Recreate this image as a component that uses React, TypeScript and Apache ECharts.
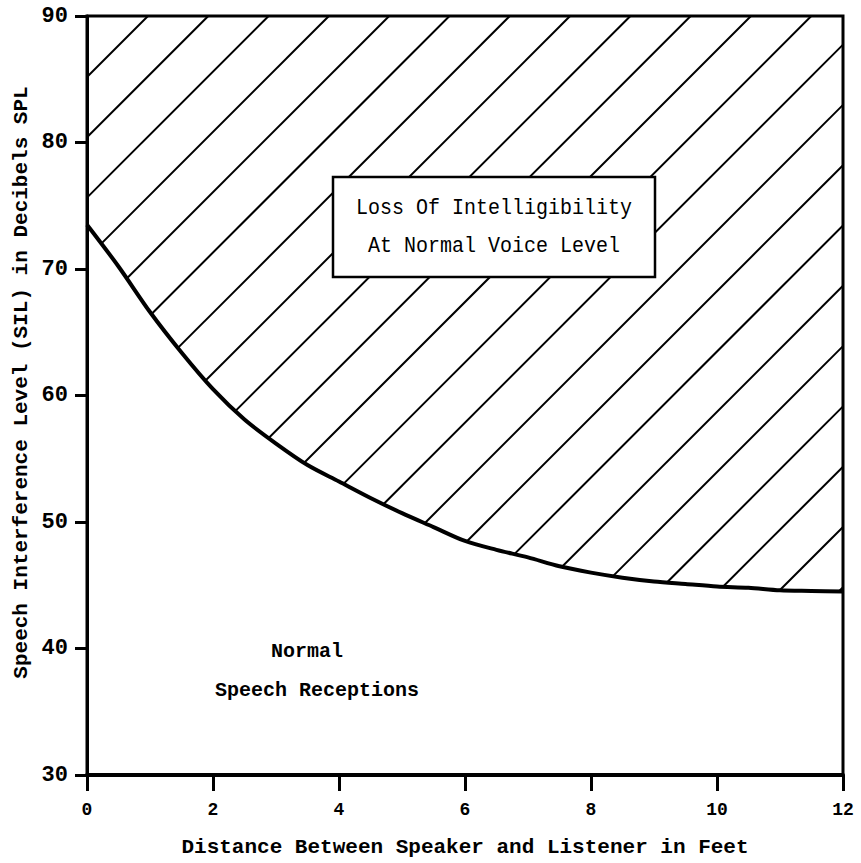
import React, { useEffect, useRef } from "react";
import * as echarts from "echarts";

// Distance between speaker and listener (feet)
const distanceFt = [0, 0.5, 1, 1.5, 2, 2.5, 3, 3.5, 4, 4.5, 5, 5.5, 6, 6.5, 7, 7.5, 8, 8.5, 9, 9.5, 10, 10.5, 11, 11.5, 12];
// Speech interference level (dB SPL) limit for normal voice
const silDb = [73.5, 70.2, 66.6, 63.4, 60.5, 58.1, 56.2, 54.5, 53.2, 51.9, 50.7, 49.6, 48.5, 47.8, 47.2, 46.5, 46.0, 45.6, 45.3, 45.1, 44.9, 44.8, 44.6, 44.55, 44.5];

const xAxisTitle = "Distance Between Speaker and Listener in Feet";
const yAxisTitle = "Speech Interference Level (SIL) in Decibels SPL";
const boxLines = ["Loss Of Intelligibility", "At Normal Voice Level"];
const normalLines = ["Normal", "Speech Receptions"];

const FONT = "'Liberation Mono', 'DejaVu Sans Mono', monospace";
const HATCH_SPACING = 60.3;
const HATCH_OFFSET = 61;

export default function App() {
  const ref = useRef<HTMLDivElement>(null);
  useEffect(() => {
    if (!ref.current) return;
    const chart = echarts.init(ref.current, undefined, { renderer: "svg" });
    const curve = distanceFt.map((d, i) => [d, silDb[i]]);

    const renderHatch = (params: any, api: any) => {
      if (params.dataIndex !== 0) return null;
      const cs = params.coordSys;
      const x0 = cs.x, y0 = cs.y, x1 = cs.x + cs.width;
      const pts = distanceFt.map((d, i) => api.coord([d, silDb[i]]));
      const g = (i: number) => pts[i][0] + pts[i][1];
      const children: any[] = [];
      const base = x0 + y0 + HATCH_OFFSET;
      for (let k = 0; k < 200; k++) {
        const c = base + HATCH_SPACING * k;
        const n = pts.length;
        if (g(n - 1) <= c) break;
        let sx: number;
        if (g(0) >= c) {
          sx = x0;
        } else {
          sx = x1;
          for (let i = 0; i < n - 1; i++) {
            if (g(i) < c && g(i + 1) >= c) {
              const t = (c - g(i)) / (g(i + 1) - g(i));
              sx = pts[i][0] + t * (pts[i + 1][0] - pts[i][0]);
              break;
            }
          }
        }
        const ex = Math.min(x1, c - y0);
        if (ex <= sx) continue;
        children.push({
          type: "line",
          shape: { x1: sx, y1: c - sx, x2: ex, y2: c - ex },
          style: { stroke: "#000", lineWidth: 2 },
        });
      }
      return { type: "group", children };
    };

    const bigText = (text: string, x: number, y: number, size: number, weight: string, sy: number) => ({
      type: "text",
      z: 101,
      x,
      y,
      scaleY: sy,
      style: { text, fill: "#000", font: `${weight} ${size}px ${FONT}`, textAlign: "center", textVerticalAlign: "middle" },
    });

    chart.setOption({
      animation: false,
      backgroundColor: "#fff",
      grid: { left: 87, right: 18, top: 16, bottom: 86, containLabel: false, show: true, borderColor: "#000", borderWidth: 3 },
      xAxis: {
        type: "value",
        min: 0,
        max: 12,
        interval: 2,
        splitLine: { show: false },
        axisLine: { show: true, onZero: false, lineStyle: { color: "#000", width: 4 } },
        axisTick: { show: true, inside: false, length: 16, lineStyle: { color: "#000", width: 3 } },
        axisLabel: { color: "#000", fontSize: 18, fontFamily: FONT, fontWeight: "bold", margin: 26 },
        name: xAxisTitle,
        nameLocation: "middle",
        nameGap: 62,
        nameMoveOverlap: false,
        nameTextStyle: { color: "#000", fontSize: 21, fontFamily: FONT, fontWeight: "bold" },
      },
      yAxis: {
        type: "value",
        min: 30,
        max: 90,
        interval: 10,
        splitLine: { show: false },
        axisLine: { show: true, onZero: false, lineStyle: { color: "#000", width: 3 } },
        axisTick: { show: true, inside: false, length: 12, lineStyle: { color: "#000", width: 3 } },
        axisLabel: { color: "#000", fontSize: 22, fontFamily: FONT, fontWeight: "bold", margin: 19 },
        name: yAxisTitle,
        nameLocation: "middle",
        nameGap: 55,
        nameRotate: 90,
        nameMoveOverlap: false,
        nameTextStyle: { color: "#000", fontSize: 21, fontFamily: FONT, fontWeight: "bold", padding: [0, 0, 0, 26] },
      },
      series: [
        {
          type: "custom",
          name: "hatch",
          renderItem: renderHatch,
          data: [curve[0]],
          clip: false,
          z: 2,
          silent: true,
        },
        {
          type: "line",
          name: "SIL limit",
          data: curve,
          symbol: "none",
          smooth: 0.3,
          lineStyle: { color: "#000", width: 4 },
          z: 3,
          silent: true,
        },
      ],
      graphic: [
        {
          type: "rect",
          z: 100,
          shape: { x: 333, y: 177, width: 322, height: 100 },
          style: { fill: "#fff", stroke: "#000", lineWidth: 2.5 },
        },
        bigText(boxLines[0], 494, 208, 20, "normal", 1.1),
        bigText(boxLines[1], 494, 246, 20, "normal", 1.1),
        bigText(normalLines[0], 307, 651, 20, "bold", 1.05),
        bigText(normalLines[1], 317, 690, 20, "bold", 1.05),
      ],
    });
    return () => chart.dispose();
  }, []);
  return (
    <div
      ref={ref}
      style={{ position: "fixed", left: 0, top: 0, width: 861, height: 863, background: "#fff" }}
    />
  );
}
